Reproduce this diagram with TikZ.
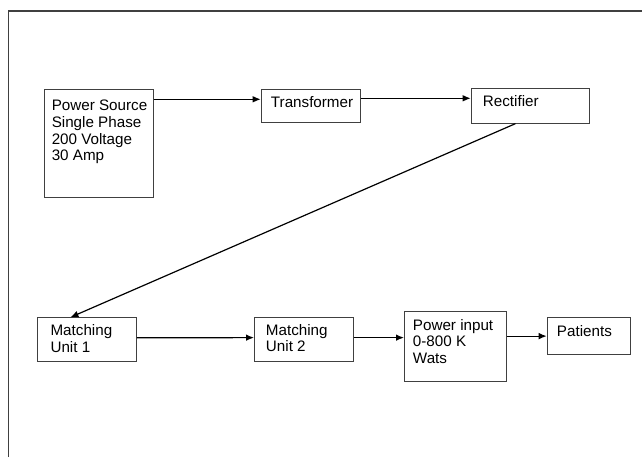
\documentclass[tikz,border=0pt]{standalone}
\usepackage{fontspec}
\setmainfont{Liberation Sans}
\usepackage{tikz}
\usetikzlibrary{arrows.meta}
\tikzstyle{block} = [
	rectangle,
	anchor=north west,
	inner sep=0pt,
	draw=black!75,
	line width=0.7pt
]
\tikzstyle{txt} = [
	anchor=north west,
	align=left,
	inner sep=0pt,
	font=\fontsize{11.4}{12.5}\selectfont
]
\tikzstyle{arrow} = [line width=0.9pt, -{Latex[length=6pt, width=5pt]}]

\begin{document}
\begin{tikzpicture}[x=0.75pt, y=-0.75pt]
    \useasboundingbox (0, 0) rectangle (642, 457);
    \draw [line width=1.2pt, black!75] (8.5, 457) -- (8.5, 10.7) -- (642, 10.7);
    \node [block, minimum width=108.7*0.75pt, minimum height=108.3*0.75pt,
      label={[txt, xshift=7.5pt*0.75, yshift=-11pt*0.75]north west:Power Source\\Single Phase\\200 Voltage\\30 Amp}]
      at (44, 89) (source) {};
    \node [block, minimum width=99.3*0.75pt, minimum height=33.3*0.75pt,
      label={[txt, xshift=10pt*0.75, yshift=-7pt*0.75]north west:Transformer}]
      at (260.7, 89) (transformer) {};
    \node [block, minimum width=118.6*0.75pt, minimum height=34.4*0.75pt,
      label={[txt, xshift=12pt*0.75, yshift=-7pt*0.75]north west:Rectifier}]
      at (470.7, 88.3) (rectifier) {};
    \node [block, minimum width=98.7*0.75pt, minimum height=43.4*0.75pt,
      label={[txt, xshift=13pt*0.75, yshift=-7pt*0.75]north west:Matching\\Unit 1}]
      at (37.3, 317.3) (match one) {};
    \node [block, minimum width=98.7*0.75pt, minimum height=43.7*0.75pt,
      label={[txt, xshift=11.7pt*0.75, yshift=-7pt*0.75]north west:Matching\\Unit 2}]
      at (254, 317) (match two) {};
    \node [block, minimum width=101.7*0.75pt, minimum height=70*0.75pt,
      label={[txt, xshift=8.7pt*0.75, yshift=-8pt*0.75]north west:Power input\\0-800 K\\Wats}]
      at (404, 311) (power input) {};
    \node [block, minimum width=83.3*0.75pt, minimum height=36.7*0.75pt,
      label={[txt, xshift=10pt*0.75, yshift=-7.5pt*0.75]north west:Patients}]
      at (546.7, 317.3) (patients) {};
    \draw [arrow] ([yshift=-10.3pt*0.75]source.north east) -- ([yshift=-10.3pt*0.75]transformer.north west);
    \draw [arrow] ([yshift=-9.3pt*0.75]transformer.north east) -- ([yshift=-10pt*0.75]rectifier.north west);
    \draw [arrow] ([xshift=-15pt*0.75]rectifier.south) -- ([xshift=-16.7pt*0.75]match one.north);
    \draw [arrow] ([yshift=1.7pt*0.75]match one.east) -- ([yshift=1.7pt*0.75]match two.west);
    \draw [arrow] ([yshift=1.7pt*0.75]match two.east) -- ([yshift=1.7pt*0.75]match two.east -| power input.west);
    \draw [arrow] (power input.east |- patients.west) -- (patients.west);
  \end{tikzpicture}
\end{document}
